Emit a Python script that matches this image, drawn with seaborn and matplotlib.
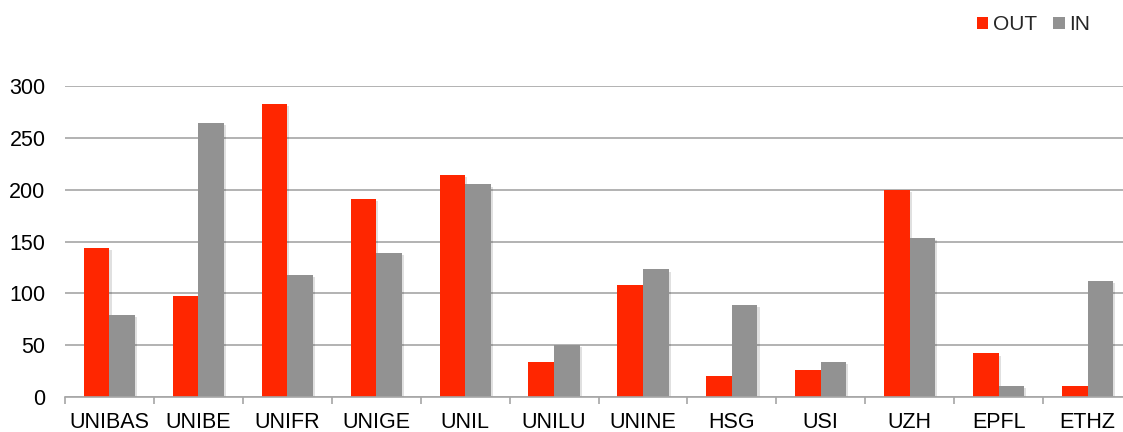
import matplotlib
matplotlib.use("Agg")
import matplotlib.pyplot as plt
import matplotlib.patheffects as pe
from matplotlib.patches import Patch
import numpy as np
import pandas as pd
import seaborn as sns

# Student mobility per university: outgoing vs incoming
universities = ["UNIBAS", "UNIBE", "UNIFR", "UNIGE", "UNIL", "UNILU",
                "UNINE", "HSG", "USI", "UZH", "EPFL", "ETHZ"]
out_values = [144, 97, 283, 191, 214, 34, 108, 20, 26, 200, 42, 11]
in_values = [79, 264, 118, 139, 205, 50, 123, 89, 34, 153, 11, 112]
series = ["OUT", "IN"]

RED = "#FF2600"
GRAY = "#929292"
GRID = "#A6A6A6"

df = pd.DataFrame({
    "uni": universities * 2,
    "value": out_values + in_values,
    "dir": [series[0]] * len(universities) + [series[1]] * len(universities),
})

sns.set_theme(style="white")
plt.rcParams["font.family"] = ["Liberation Sans", "DejaVu Sans"]

fig = plt.figure(figsize=(11.23, 4.32), dpi=100)
ax = fig.add_axes([65 / 1123, 35 / 432, 1067 / 1123, 311 / 432])

sns.barplot(data=df, x="uni", y="value", hue="dir", order=universities,
            hue_order=series, palette=[RED, GRAY], width=0.576,
            saturation=1, gap=0, linewidth=0, ax=ax, legend=False)

shadow = [pe.SimplePatchShadow(offset=(1.5, -1.5), shadow_rgbFace="black", alpha=0.12),
          pe.Normal()]
for bar in ax.patches:
    bar.set_path_effects(shadow)

ax.set_ylim(0, 300)
ax.set_xlim(-0.5, len(universities) - 0.5)
ax.set_yticks(np.arange(0, 301, 50))
ax.yaxis.grid(True, color=GRID, linewidth=1.2)
ax.set_axisbelow(True)

for side in ["top", "right", "left"]:
    ax.spines[side].set_visible(False)
ax.spines["bottom"].set_color(GRID)
ax.spines["bottom"].set_linewidth(1.2)

ax.set_xticks(np.arange(-0.5, len(universities), 1.0), minor=True)
ax.tick_params(axis="x", which="minor", length=5, width=1.2, color=GRID, direction="out", bottom=True)
ax.tick_params(axis="x", which="major", length=0, pad=10.5, labelsize=15.5, labelcolor="black")
ax.tick_params(axis="y", length=0, pad=14, labelsize=15.5, labelcolor="black")
ax.set_xlabel("")
ax.set_ylabel("")

handles = [Patch(facecolor=RED, edgecolor="none"), Patch(facecolor=GRAY, edgecolor="none")]
fig.legend(handles, series, loc="center right", bbox_to_anchor=(1090 / 1123, 1 - 25 / 432),
           ncol=2, frameon=False, fontsize=15, handlelength=0.55, handleheight=0.55,
           handletextpad=0.2, columnspacing=0.8, borderaxespad=0, borderpad=0)

fig.savefig("out.png", dpi=100)
